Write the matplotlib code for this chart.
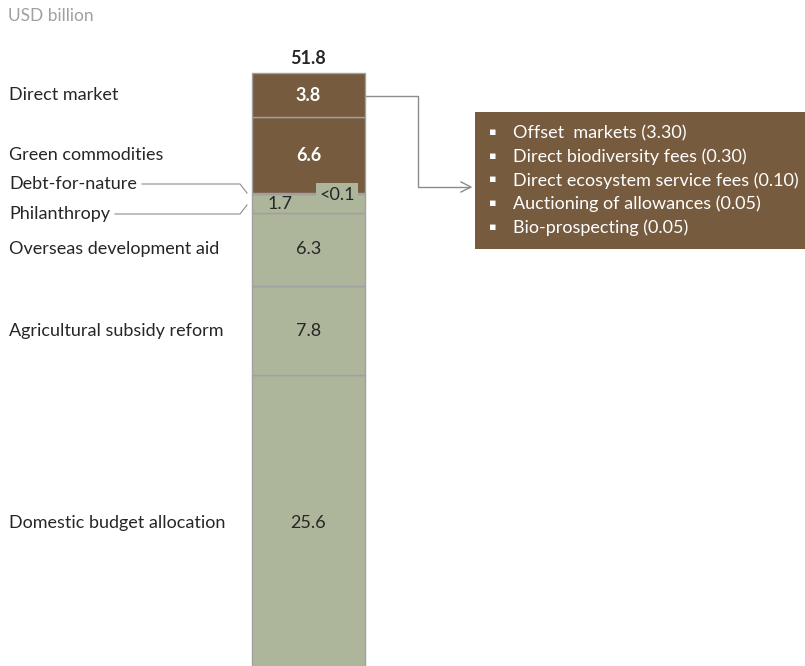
import matplotlib
matplotlib.use("Agg")
import matplotlib.pyplot as plt
from matplotlib.patches import Rectangle
from matplotlib.lines import Line2D

# ---- data (bottom to top) ----
categories = ["Domestic budget allocation", "Agricultural subsidy reform",
              "Overseas development aid", "Philanthropy", "Debt-for-nature",
              "Green commodities", "Direct market"]
values = [25.6, 7.8, 6.3, 1.7, 0.05, 6.6, 3.8]
value_labels = ["25.6", "7.8", "6.3", "1.7", "<0.1", "6.6", "3.8"]
total_label = "51.8"
direct_market_items = ["Offset  markets (3.30)", "Direct biodiversity fees (0.30)",
                       "Direct ecosystem service fees (0.10)",
                       "Auctioning of allowances (0.05)", "Bio-prospecting (0.05)"]

BROWN = "#765B3F"
GREEN = "#ADB59B"
EDGE = "#a0a0a0"
DARK = "#262626"
colors = [GREEN, GREEN, GREEN, GREEN, GREEN, BROWN, BROWN]

plt.rcParams['font.family'] = ['Lato', 'DejaVu Sans']
FS = 13

W, H = 805, 666
fig = plt.figure(figsize=(W / 100, H / 100), dpi=100)

def fx(x):
    return x / W

def fy(y):
    return 1 - y / H

bar_top_px, bar_bot_px = 74, 670
ax = fig.add_axes([0, fy(bar_bot_px), 1, (bar_bot_px - bar_top_px) / H])
total = 51.8
ax.set_xlim(0, W)
ax.set_ylim(0, total)
ax.axis('off')

bar_x, bar_w = 308.5, 113
bottoms = []
acc = 0.0
for v in values:
    bottoms.append(acc)
    acc += v

ax.bar([bar_x] * len(values), values, bottom=bottoms, width=bar_w,
       color=colors, edgecolor=EDGE, linewidth=1.0, clip_on=False)

for cat, v, b, lab in zip(categories, values, bottoms, value_labels):
    c = b + v / 2
    if cat in ("Green commodities", "Direct market"):
        ax.text(bar_x, c, lab, ha='center', va='center', color='white',
                fontsize=FS, fontweight='bold')
    elif cat == "Philanthropy":
        ax.text(bar_x - 28, c - 0.05, lab, ha='center', va='center', color=DARK, fontsize=FS)
    elif cat == "Debt-for-nature":
        ax.text(337 / W, fy(195), lab, transform=fig.transFigure, ha='center',
                va='center', color=DARK, fontsize=FS,
                bbox=dict(boxstyle='square,pad=0.2', fc=GREEN, ec='none'))
    else:
        ax.text(bar_x, c, lab, ha='center', va='center', color=DARK, fontsize=FS)

    if cat == "Debt-for-nature":
        fig.text(fx(9), fy(184), cat, ha='left', va='center', color=DARK, fontsize=FS)
    elif cat == "Philanthropy":
        fig.text(fx(9), fy(214), cat, ha='left', va='center', color=DARK, fontsize=FS)
    else:
        ax.text(9, c, cat, ha='left', va='center', color=DARK, fontsize=FS)

# total label
fig.text(fx(bar_x), fy(58), total_label, ha='center', va='center', color=DARK,
         fontsize=FS, fontweight='bold')
fig.text(fx(8), fy(16), "USD billion", ha='left', va='center', color='#a0a0a0', fontsize=12.5)

# bracket lines
lc = '#8c8c8c'
fig.add_artist(Line2D([fx(142), fx(240), fx(247)], [fy(184), fy(184), fy(193)],
                      color=lc, lw=0.8))
fig.add_artist(Line2D([fx(115), fx(240), fx(247)], [fy(214), fy(214), fy(205)],
                      color=lc, lw=0.8))

# connector to box
fig.add_artist(Line2D([fx(366), fx(418), fx(418), fx(470)],
                      [fy(96), fy(96), fy(187), fy(187)], color=lc, lw=1.0))
fig.add_artist(Line2D([fx(461), fx(471), fx(461)], [fy(182), fy(187), fy(192)],
                      color=lc, lw=1.0))

# right box
fig.add_artist(Rectangle((fx(475), fy(249)), fx(805) - fx(475), (249 - 112) / H,
                         transform=fig.transFigure, fc=BROWN, ec='none'))
for k, item in enumerate(direct_market_items):
    y = 133 + k * 23.7
    fig.text(fx(493), fy(y - 1), "\u25aa", ha='center', va='center', color='white',
             fontsize=8, family='DejaVu Sans')
    fig.text(fx(513), fy(y), item, ha='left', va='center', color='white', fontsize=FS)

fig.savefig("out.png", dpi=100)
